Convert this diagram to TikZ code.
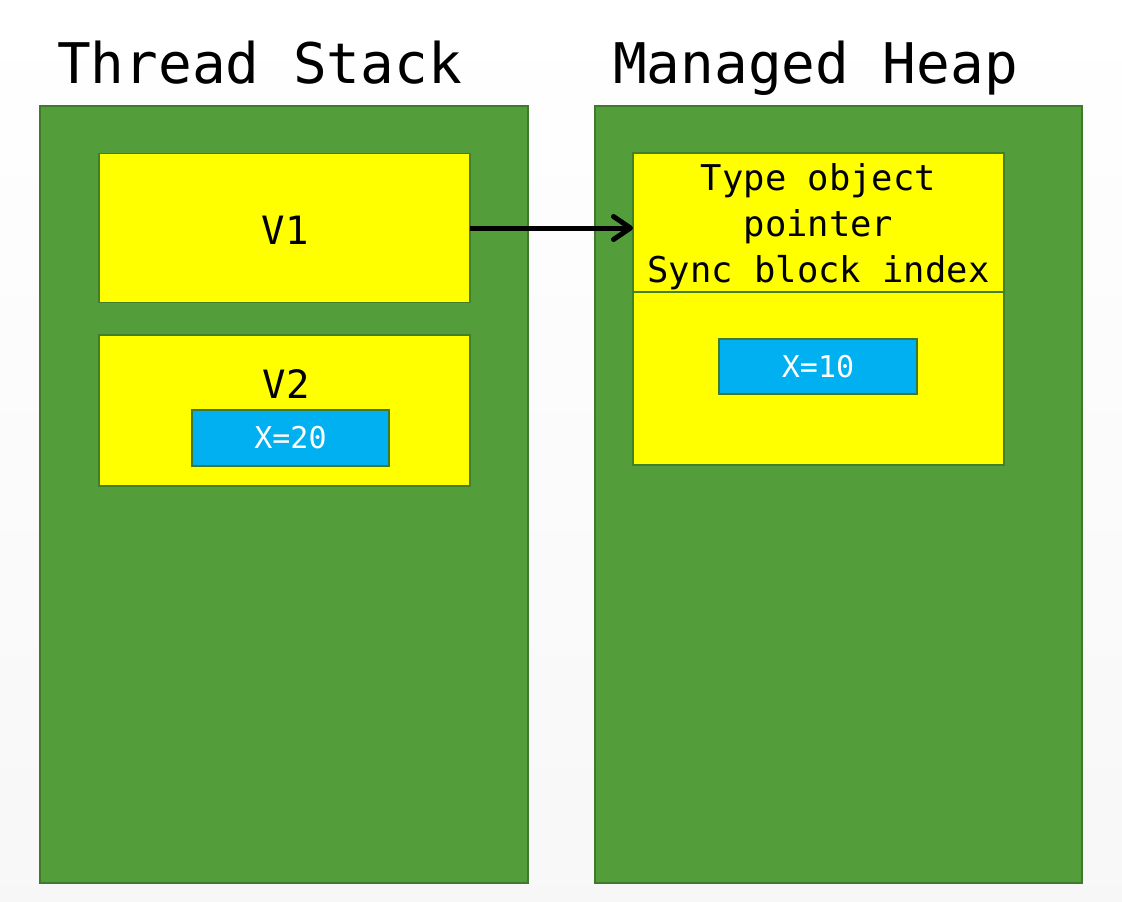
\documentclass[tikz,border=0pt]{standalone}
\usepackage{fontspec}
\setmonofont{DejaVu Sans Mono}
\usetikzlibrary{arrows.meta}
\definecolor{boxgreen}{HTML}{539E3B}
\definecolor{edgegreen}{HTML}{3F7A2B}
\definecolor{boxyellow}{HTML}{FFFF00}
\definecolor{boxblue}{HTML}{00B0F0}
\tikzset{
  panel/.style={draw=edgegreen, fill=boxgreen, line width=1.5pt, outer sep=0pt, inner sep=0pt},
  cell/.style={draw=edgegreen!85!boxgreen, fill=boxyellow, line width=1.5pt, outer sep=0pt, inner sep=0pt, font=\ttfamily\fontsize{39}{46}\selectfont},
  valbox/.style={draw=edgegreen, fill=boxblue, line width=1.5pt, outer sep=0pt, inner sep=0pt, text=white, font=\ttfamily\fontsize{30}{36}\selectfont},
  title/.style={font=\ttfamily\fontsize{56}{60}\selectfont, anchor=base west, inner sep=0pt},
  pointer/.style={line width=5pt, -{Straight Barb[length=17pt,width=23pt,line cap=round,line join=round]}}
}
\begin{document}
\begin{tikzpicture}[x=1pt,y=-1pt]
\useasboundingbox (0,0) rectangle (1122,902);
\shade[top color=white, bottom color=black!3] (0,0) rectangle (1122,902);
% titles
\node[title] (tstack) at (57,83) {Thread Stack};
\node[title] (theap) at (613,83) {Managed Heap};
% panels
\node[panel, minimum width=488pt, minimum height=777pt] (stack) at (284,494.5) {};
\node[panel, minimum width=487pt, minimum height=777pt] (heap) at (838.5,494.5) {};
% stack cells
\node[cell, minimum width=371pt, minimum height=149pt] (v1) at (284.5,228) {};
\node[font=\ttfamily\fontsize{39}{46}\selectfont, inner sep=0pt] (v1label) at (285,230) {V1};
\node[cell, minimum width=371pt, minimum height=151pt] (v2) at (284.5,410.5) {};
\node[font=\ttfamily\fontsize{39}{46}\selectfont, inner sep=0pt] (v2label) at (286,384) {V2};
\node[valbox, minimum width=197pt, minimum height=56pt] (x20) at (290.5,438) {X=20};
% heap object
\node[cell, minimum width=371pt, minimum height=312pt] (obj) at (818.5,309) {};
\node[cell, minimum width=371pt, minimum height=139pt] (objhead) at (818.5,222.5) {};
\node[align=center, inner sep=0pt, font=\ttfamily\fontsize{35.5}{46}\selectfont] (objtext) at (818.5,226.5)
      {Type object\\pointer\\Sync block index};
\node[valbox, minimum width=198pt, minimum height=55pt] (x10) at (818,366.5) {X=10};
% reference arrow
\draw[pointer] (v1.east) -- (v1.east -| obj.west);
\end{tikzpicture}
\end{document}
